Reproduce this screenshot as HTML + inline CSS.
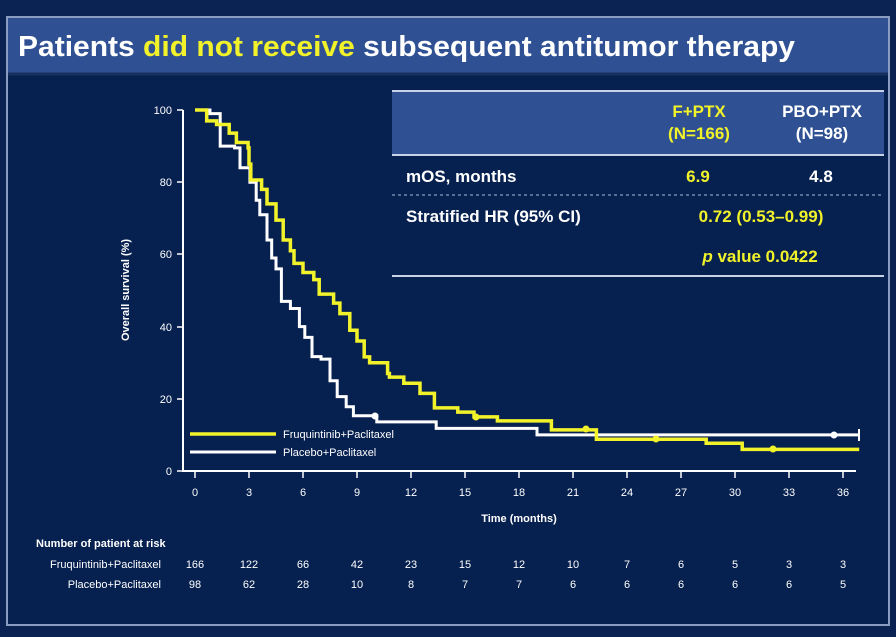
<!DOCTYPE html>
<html><head><meta charset="utf-8"><style>
html,body{margin:0;padding:0;background:#0b2454;}
svg{display:block;font-family:"Liberation Sans",Arial,sans-serif;}
</style></head><body>
<svg width="896" height="637" viewBox="0 0 896 637" xmlns="http://www.w3.org/2000/svg">
<rect x="0" y="0" width="896" height="637" fill="#0a2352"/>
<rect x="7" y="17" width="882" height="608" fill="#06204f" stroke="#8a9cbf" stroke-width="2"/>
<rect x="8" y="18" width="880" height="56" fill="#2f5193"/>
<line x1="8" y1="74" x2="888" y2="74" stroke="#1a2f5e" stroke-width="3"/>
<text x="18" y="56" font-size="29" font-weight="bold" fill="#fff" textLength="777" lengthAdjust="spacingAndGlyphs">Patients <tspan fill="#f2f22a">did not receive</tspan> subsequent antitumor therapy</text>

<!-- table -->
<rect x="392" y="90" width="492" height="64" fill="#2f5193"/>
<line x1="392" y1="91" x2="884" y2="91" stroke="#c8d2e6" stroke-width="2"/>
<line x1="392" y1="155" x2="884" y2="155" stroke="#c8d2e6" stroke-width="2"/>
<g font-weight="bold" font-size="17" text-anchor="middle">
<text x="699" y="117" fill="#f2f22a">F+PTX</text>
<text x="699" y="139" fill="#f2f22a">(N=166)</text>
<text x="822" y="117" fill="#fff">PBO+PTX</text>
<text x="822" y="139" fill="#fff">(N=98)</text>
<text x="698" y="182" fill="#f2f22a">6.9</text>
<text x="821" y="182" fill="#fff">4.8</text>
<text x="761" y="222" fill="#f2f22a">0.72 (0.53–0.99)</text>
<text x="760" y="262" fill="#f2f22a"><tspan font-style="italic">p</tspan> value 0.0422</text>
</g>
<g font-weight="bold" font-size="17" fill="#fff">
<text x="406" y="182">mOS, months</text>
<text x="406" y="222">Stratified HR (95% CI)</text>
</g>
<line x1="392" y1="195" x2="884" y2="195" stroke="#8a9cbf" stroke-width="1.2" stroke-dasharray="3,3"/>
<line x1="392" y1="276" x2="884" y2="276" stroke="#c8d2e6" stroke-width="2"/>

<!-- axes -->
<g stroke="#fff" stroke-width="2" fill="none">
<line x1="183" y1="110" x2="183" y2="472"/>
<line x1="182" y1="471" x2="856" y2="471"/>
</g>
<g stroke="#fff" stroke-width="1.5">
<line x1="177" y1="110" x2="183" y2="110"/><line x1="177" y1="182" x2="183" y2="182"/>
<line x1="177" y1="254" x2="183" y2="254"/><line x1="177" y1="327" x2="183" y2="327"/>
<line x1="177" y1="399" x2="183" y2="399"/><line x1="177" y1="471" x2="183" y2="471"/>
<line x1="195" y1="471" x2="195" y2="478"/><line x1="249" y1="471" x2="249" y2="478"/>
<line x1="303" y1="471" x2="303" y2="478"/><line x1="357" y1="471" x2="357" y2="478"/>
<line x1="411" y1="471" x2="411" y2="478"/><line x1="465" y1="471" x2="465" y2="478"/>
<line x1="519" y1="471" x2="519" y2="478"/><line x1="573" y1="471" x2="573" y2="478"/>
<line x1="627" y1="471" x2="627" y2="478"/><line x1="681" y1="471" x2="681" y2="478"/>
<line x1="735" y1="471" x2="735" y2="478"/><line x1="789" y1="471" x2="789" y2="478"/>
<line x1="843" y1="471" x2="843" y2="478"/>
</g>
<g font-size="11" fill="#fff" text-anchor="end">
<text x="172" y="114">100</text><text x="172" y="186">80</text><text x="172" y="258">60</text>
<text x="172" y="331">40</text><text x="172" y="403">20</text><text x="172" y="475">0</text>
</g>
<g font-size="11" fill="#fff" text-anchor="middle">
<text x="195" y="496">0</text><text x="249" y="496">3</text><text x="303" y="496">6</text>
<text x="357" y="496">9</text><text x="411" y="496">12</text><text x="465" y="496">15</text>
<text x="519" y="496">18</text><text x="573" y="496">21</text><text x="627" y="496">24</text>
<text x="681" y="496">27</text><text x="735" y="496">30</text><text x="789" y="496">33</text>
<text x="843" y="496">36</text>
<text x="519" y="522" font-weight="bold">Time (months)</text>
</g>
<text transform="translate(129,290) rotate(-90)" font-size="11" font-weight="bold" fill="#fff" text-anchor="middle">Overall survival (%)</text>

<!-- curves -->
<g transform="translate(195,471) scale(18,-3.61)" fill="none" stroke-linejoin="miter">
<path vector-effect="non-scaling-stroke" stroke="#ffffff" stroke-width="3" d="M0 100 H0.83 V99 H1.4 V90 H2.2 V89.5 H2.5 V84 H3.05 V80 H3.4 V75 H3.6 V71 H4 V64 H4.26 V59 H4.5 V56 H4.8 V47 H5.3 V45 H5.8 V40 H6.1 V37 H6.5 V31.7 H7 V31 H7.5 V25 H7.9 V20.6 H8.4 V17.8 H8.8 V15.3 H10.1 V13.6 H13.4 V11.8 H19 V10 H36.9"/>
<path vector-effect="non-scaling-stroke" stroke="#f2f22a" stroke-width="3.5" d="M0 100 H0.65 V97 H1.2 V96 H1.9 V93.6 H2.3 V91 H2.95 V89.5 H3 V85 H3.1 V80.6 H3.7 V78 H4 V74 H4.5 V69.5 H4.9 V64 H5.3 V61 H5.5 V57.5 H6 V55 H6.6 V53 H6.9 V49 H7.7 V46.5 H8.05 V43.6 H8.6 V39 H9 V36 H9.4 V31.6 H9.7 V30 H10.7 V27 H10.8 V26 H11.6 V24.3 H12.5 V21.5 H13.3 V17.5 H14.6 V16.3 H15.5 V15 H16.8 V13.9 H19.8 V11.4 H22.3 V8.8 H28.4 V7.7 H30.4 V6 H36.9"/>
</g>
<line x1="859" y1="429" x2="859" y2="441" stroke="#fff" stroke-width="2"/>
<g fill="#f2f22a"><circle cx="476" cy="417" r="3.5"/><circle cx="586" cy="429" r="3.5"/><circle cx="656" cy="439" r="3.5"/><circle cx="773" cy="449" r="3.5"/></g>
<g fill="#fff"><circle cx="375" cy="416" r="3.5"/><circle cx="834" cy="435" r="3.5"/></g>

<!-- legend -->
<line x1="190" y1="434" x2="276" y2="434" stroke="#f2f22a" stroke-width="3.5"/>
<line x1="190" y1="452" x2="276" y2="452" stroke="#fff" stroke-width="3"/>
<g font-size="11" fill="#fff">
<text x="283" y="438">Fruquintinib+Paclitaxel</text>
<text x="283" y="456">Placebo+Paclitaxel</text>
</g>

<!-- risk table -->
<g font-size="11" fill="#fff">
<text x="36" y="547" font-weight="bold">Number of patient at risk</text>
<text x="161" y="568" text-anchor="end">Fruquintinib+Paclitaxel</text>
<text x="161" y="588" text-anchor="end">Placebo+Paclitaxel</text>
</g>
<g font-size="11" fill="#fff" text-anchor="middle">
<text x="195" y="568">166</text><text x="249" y="568">122</text><text x="303" y="568">66</text>
<text x="357" y="568">42</text><text x="411" y="568">23</text><text x="465" y="568">15</text>
<text x="519" y="568">12</text><text x="573" y="568">10</text><text x="627" y="568">7</text>
<text x="681" y="568">6</text><text x="735" y="568">5</text><text x="789" y="568">3</text>
<text x="843" y="568">3</text>
<text x="195" y="588">98</text><text x="249" y="588">62</text><text x="303" y="588">28</text>
<text x="357" y="588">10</text><text x="411" y="588">8</text><text x="465" y="588">7</text>
<text x="519" y="588">7</text><text x="573" y="588">6</text><text x="627" y="588">6</text>
<text x="681" y="588">6</text><text x="735" y="588">6</text><text x="789" y="588">6</text>
<text x="843" y="588">5</text>
</g>
</svg>
</body></html>
